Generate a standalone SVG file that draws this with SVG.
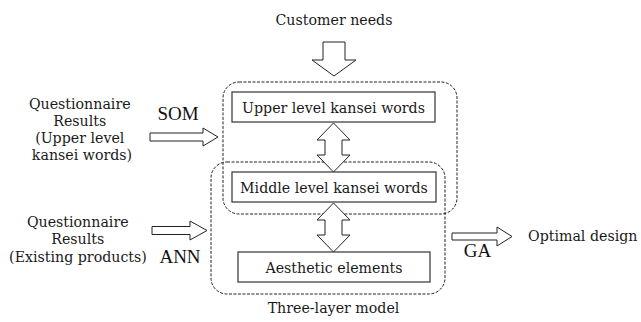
<svg xmlns="http://www.w3.org/2000/svg" width="641" height="322" viewBox="0 0 641 322">
  <style>
    .lbl { font-family: "DejaVu Serif", "Liberation Serif", serif; font-size: 14.2px; fill: #1a1a1a; }
    .algo { font-family: "Liberation Serif", "Times New Roman", serif; font-size: 19px; fill: #111; }
    .group { fill: none; stroke: #222; stroke-width: 1; stroke-dasharray: 3 1.5; }
    .layer { fill: #fff; stroke: #333; stroke-width: 1.2; }
    .arrow { fill: #fff; stroke: #222; stroke-width: 1; stroke-linejoin: miter; }
  </style>

  <rect width="641" height="322" fill="#fff"/>

  <!-- dashed groupings -->
  <g id="upper-group">
    <rect class="group" x="223" y="82" width="234" height="132" rx="16" ry="16"/>
  </g>
  <g id="three-layer-model">
    <rect class="group" x="211" y="162" width="234" height="132" rx="16" ry="16"/>
    <text class="lbl" x="333.5" y="312.5" text-anchor="middle">Three-layer model</text>
  </g>

  <!-- layers -->
  <g id="upper-level">
    <rect class="layer" x="232" y="92" width="203" height="30"/>
    <text class="lbl" x="333.5" y="112.5" text-anchor="middle">Upper level kansei words</text>
  </g>
  <g id="middle-level">
    <rect class="layer" x="232" y="172" width="204" height="30"/>
    <text class="lbl" x="334" y="192.5" text-anchor="middle">Middle level kansei words</text>
  </g>
  <g id="aesthetic-elements">
    <rect class="layer" x="238" y="252" width="192" height="30"/>
    <text class="lbl" x="334" y="272.5" text-anchor="middle">Aesthetic elements</text>
  </g>

  <!-- inputs and output -->
  <g id="customer-needs">
    <text class="lbl" x="334" y="25" text-anchor="middle">Customer needs</text>
  </g>
  <g id="questionnaire-upper">
    <text class="lbl" text-anchor="middle">
      <tspan x="82" y="109">Questionnaire</tspan>
      <tspan x="82" y="126">Results</tspan>
      <tspan x="82" y="143">(Upper level</tspan>
      <tspan x="82" y="160">kansei words)</tspan>
    </text>
  </g>
  <g id="questionnaire-existing">
    <text class="lbl" text-anchor="middle">
      <tspan x="80" y="226.5">Questionnaire</tspan>
      <tspan x="80" y="244">Results</tspan>
      <tspan x="78" y="261.5">(Existing products)</tspan>
    </text>
  </g>
  <g id="optimal-design">
    <text class="lbl" x="528" y="241">Optimal design</text>
  </g>

  <!-- connectors -->
  <g id="connectors">
    <polygon class="arrow" points="323,42 345,42 345,60 356,60 334,76 312,60 323,60"/>
    <polygon class="arrow" points="333.5,123 350,140 342,140 342,155 350,155 333.5,172 317,155 325,155 325,140 317,140"/>
    <polygon class="arrow" points="333.5,203 350,220 342,220 342,235 350,235 333.5,252 317,235 325,235 325,220 317,220"/>
    <polygon class="arrow" points="150,133 203,133 203,128 218,137 203,146 203,141 150,141"/>
    <polygon class="arrow" points="152,226.5 190,226.5 190,221 207,230.5 190,240 190,234.5 152,234.5"/>
    <polygon class="arrow" points="452,233 497,233 497,227 512,236.5 497,246 497,240 452,240"/>
    <text class="algo" x="178" y="120" text-anchor="middle">SOM</text>
    <text class="algo" x="180" y="263" text-anchor="middle">ANN</text>
    <text class="algo" x="477.5" y="257" text-anchor="middle">GA</text>
  </g>
</svg>
